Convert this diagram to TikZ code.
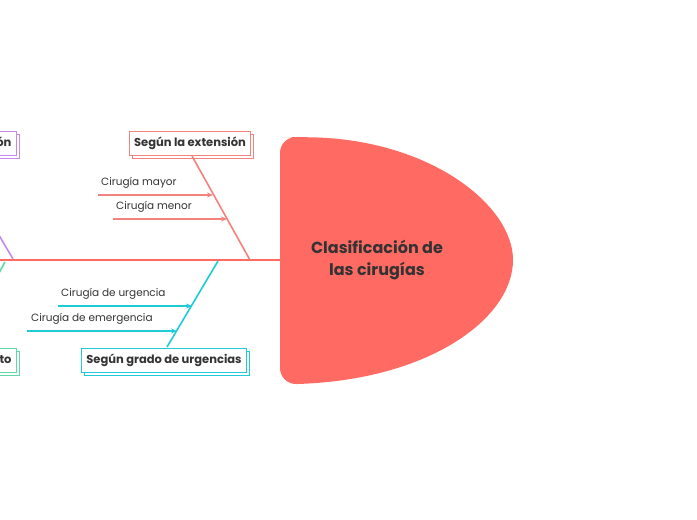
\documentclass[tikz,border=0pt]{standalone}
\usepackage{fontspec}
\setmainfont{Poppins}
\usetikzlibrary{shadows,arrows.meta}
\definecolor{red1}{HTML}{FF6B63}
\definecolor{red2}{HTML}{F4827C}
\definecolor{cyan1}{HTML}{1FCBD6}
\definecolor{purp}{HTML}{C48BEA}
\definecolor{grn}{HTML}{5ED9A6}
\definecolor{txt}{HTML}{333333}
\tikzset{
  cat/.style={draw=#1, fill=white, line width=1pt, inner xsep=5pt, inner ysep=0pt, minimum height=24pt, font=\fontsize{11.5}{13}\selectfont\bfseries, text=txt,
    copy shadow={shadow xshift=3pt, shadow yshift=-3pt, draw=#1, fill=white, line width=0.8pt}},
  sub/.style={font=\fontsize{10.5}{12}\selectfont, text=txt, inner sep=1pt, anchor=south west},
  arr/.style={draw=#1, line width=1.3pt, -{Stealth[length=6pt,width=5pt]}},
  bone/.style={draw=#1, line width=1.6pt}
}
\begin{document}
\begin{tikzpicture}[x=1pt,y=-1pt]
\clip (0,0) rectangle (697,520);
\fill[white] (0,0) rectangle (697,520);
% spine
\coordinate (s0) at (0,260);
\coordinate (s1) at (282,260);
\draw[line width=2.5pt, red1] (s0) -- (s1);
% head
\fill[red1] (297,137) .. controls (430,140) and (513,205) .. (513,260) .. controls (513,318) and (430,380) .. (297,384) [rounded corners=16] -- (280,384) -- (280,137) -- cycle;
\node[font=\fontsize{16}{22}\selectfont\bfseries, text=txt, align=center] (head) at (377,260) {Clasificación de\\las cirugías};
% upper right
\node[cat=red2] (ext) at (190,143) {Según la extensión};
\coordinate (e1) at (250,260);
\draw[bone=red2] (192,156) -- (e1);
\coordinate (m0) at (98,195); \coordinate (m1) at (213,195);
\draw[arr=red2] (m0) -- (m1);
\node[sub] (mt) at (100,190) {Cirugía mayor};
\coordinate (n0) at (113,219); \coordinate (n1) at (227,219);
\draw[arr=red2] (n0) -- (n1);
\node[sub] (nt) at (115,214) {Cirugía menor};
% lower right
\node[cat=cyan1] (urg) at (164,360) {Según grado de urgencias};
\coordinate (u1) at (218,261);
\draw[bone=cyan1] (167,347) -- (u1);
\coordinate (a0) at (58,306); \coordinate (a1) at (192,306);
\draw[arr=cyan1] (a0) -- (a1);
\node[sub] (at) at (60,301) {Cirugía de urgencia};
\coordinate (b0) at (27,331); \coordinate (b1) at (177,331);
\draw[arr=cyan1] (b0) -- (b1);
\node[sub] (bt) at (30,326) {Cirugía de emergencia};
% left, cut off
\node[cat=purp, anchor=east] (lp) at (17,143) {Según su clasificación};
\draw[bone=purp] (-10,220) -- (13,259);
\node[cat=grn, anchor=east] (lg) at (17,360) {Según el objeto};
\draw[bone=grn] (5,262) -- (-8,286);
\end{tikzpicture}
\end{document}
